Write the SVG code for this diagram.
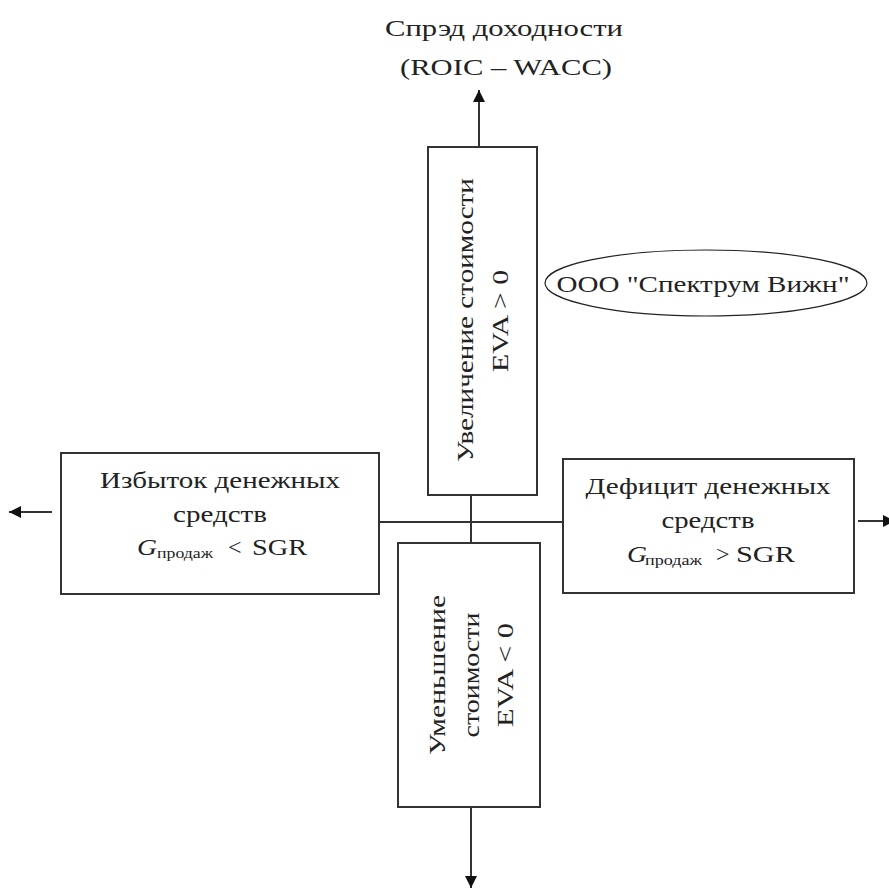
<svg xmlns="http://www.w3.org/2000/svg" width="889" height="890" viewBox="0 0 889 890">
<style>
.box{fill:#fff;stroke:#333;stroke-width:2}
.ln{stroke:#333;stroke-width:2;fill:none}
text{font-family:"Liberation Serif","Times New Roman","DejaVu Serif",serif;font-size:24px;fill:#222}
.m{text-anchor:middle}
.sub{font-size:14px}
</style>
<defs>
<marker id="ah" viewBox="0 0 10 10" refX="10" refY="5" markerWidth="6" markerHeight="7" markerUnits="strokeWidth" orient="auto">
<path d="M0,0 L10,5 L0,10 z" fill="#111"/>
</marker>
</defs>
<g id="connectors">
<line class="ln" x1="378" y1="522" x2="563" y2="522"/>
<line class="ln" x1="471" y1="495" x2="471" y2="543"/>
<line class="ln" x1="479" y1="147" x2="479" y2="90" marker-end="url(#ah)"/>
<line class="ln" x1="471" y1="807" x2="471" y2="888" marker-end="url(#ah)"/>
<line class="ln" x1="52" y1="512" x2="9" y2="512" marker-end="url(#ah)"/>
<line class="ln" x1="858" y1="521" x2="895" y2="521" marker-end="url(#ah)"/>
</g>
<g id="title">
<text class="m" x="504" y="36" textLength="238" lengthAdjust="spacingAndGlyphs">Спрэд доходности</text>
<text class="m" x="506" y="75" textLength="212" lengthAdjust="spacingAndGlyphs">(ROIC – WACC)</text>
</g>
<g id="top">
<rect class="box" x="428" y="147" width="109" height="348"/>
<text class="m" transform="translate(473,320) rotate(-90)" textLength="284" lengthAdjust="spacingAndGlyphs">Увеличение стоимости</text>
<text class="m" transform="translate(508,321) rotate(-90)" textLength="102" lengthAdjust="spacingAndGlyphs">EVA &gt; 0</text>
</g>
<g id="company">
<ellipse cx="706" cy="283" rx="161" ry="33" fill="#fff" stroke="#222" stroke-width="1.2"/>
<text class="m" x="703" y="292" textLength="293" lengthAdjust="spacingAndGlyphs">ООО "Спектрум Вижн"</text>
</g>
<g id="left">
<rect class="box" x="61" y="453" width="318" height="141"/>
<text class="m" x="220" y="488" textLength="240" lengthAdjust="spacingAndGlyphs">Избыток денежных</text>
<text class="m" x="220" y="522" textLength="94" lengthAdjust="spacingAndGlyphs">средств</text>
<text x="137" y="555" font-style="italic" textLength="20" lengthAdjust="spacingAndGlyphs">G</text>
<text class="sub" x="157" y="558" textLength="56" lengthAdjust="spacingAndGlyphs">продаж</text>
<text x="228" y="555">&lt;</text>
<text x="252" y="555" textLength="55" lengthAdjust="spacingAndGlyphs">SGR</text>
</g>
<g id="right">
<rect class="box" x="563" y="459" width="291" height="134"/>
<text class="m" x="708" y="494" textLength="245" lengthAdjust="spacingAndGlyphs">Дефицит денежных</text>
<text class="m" x="708" y="528" textLength="93" lengthAdjust="spacingAndGlyphs">средств</text>
<text x="627" y="562" font-style="italic" textLength="20" lengthAdjust="spacingAndGlyphs">G</text>
<text class="sub" x="645" y="565" textLength="57" lengthAdjust="spacingAndGlyphs">продаж</text>
<text x="716" y="562">&gt;</text>
<text x="736" y="562" textLength="59" lengthAdjust="spacingAndGlyphs">SGR</text>
</g>
<g id="bottom">
<rect class="box" x="398" y="543" width="142" height="264"/>
<text class="m" transform="translate(445,675) rotate(-90)" textLength="160" lengthAdjust="spacingAndGlyphs">Уменьшение</text>
<text class="m" transform="translate(479,675) rotate(-90)" textLength="125" lengthAdjust="spacingAndGlyphs">стоимости</text>
<text class="m" transform="translate(513,675) rotate(-90)" textLength="104" lengthAdjust="spacingAndGlyphs">EVA &lt; 0</text>
</g>
</svg>
